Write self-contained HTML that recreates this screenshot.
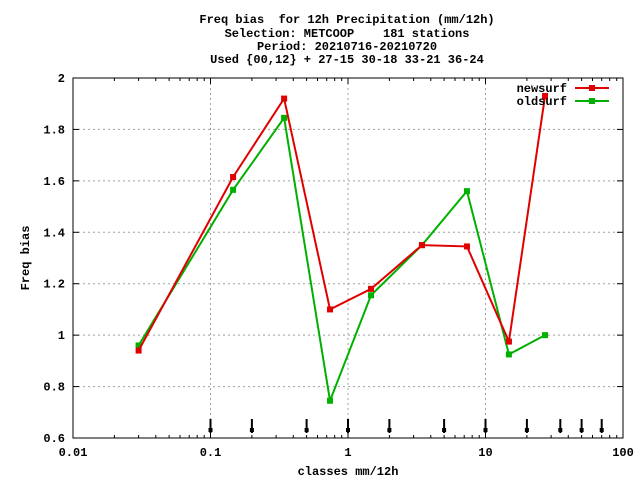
<!DOCTYPE html>
<html><head><meta charset="utf-8"><style>
body{margin:0;background:#fff}
svg text{font-family:"Liberation Mono",monospace;font-size:12px;font-weight:bold;fill:#000;white-space:pre}
</style></head><body>
<svg id="chart" width="640" height="480" xmlns="http://www.w3.org/2000/svg" xml:space="preserve">
<g>
<text x="347" y="23" text-anchor="middle">Freq bias  for 12h Precipitation (mm/12h)</text>
<text x="347" y="37" text-anchor="middle">Selection: METCOOP    181 stations</text>
<text x="347" y="50" text-anchor="middle">Period: 20210716-20210720</text>
<text x="347" y="63" text-anchor="middle">Used {00,12} + 27-15 30-18 33-21 36-24</text>
</g>
<g id="grid"></g>
<g id="axes"></g>
<g id="marks"></g>
<text transform="translate(29,258) rotate(-90)" text-anchor="middle">Freq bias</text>
<text x="348" y="475" text-anchor="middle">classes mm/12h</text>
<g>
<text x="567" y="92" text-anchor="end">newsurf</text>
<line x1="575" y1="88" x2="609" y2="88" stroke="#e00000" stroke-width="2"/>
<rect x="589" y="85" width="6" height="6" fill="#e00000"/>
<text x="567" y="105" text-anchor="end">oldsurf</text>
<line x1="575" y1="101" x2="609" y2="101" stroke="#00b000" stroke-width="2"/>
<rect x="589" y="98" width="6" height="6" fill="#00b000"/>
</g>
</svg>
<script>
const classes=[0.03,0.146,0.343,0.74,1.47,3.45,7.33,14.8,27.1];
const newsurf=[0.94,1.615,1.92,1.10,1.18,1.35,1.345,0.975,1.93];
const oldsurf=[0.96,1.565,1.845,0.745,1.155,1.35,1.56,0.925,1.0];
const arrowClasses=[0.1,0.2,0.5,1,2,5,10,20,35,50,70];
const yTicks=[0.6,0.8,1,1.2,1.4,1.6,1.8,2];
const yLabels=["0.6","0.8","1","1.2","1.4","1.6","1.8","2"];
const xTicks=[0.01,0.1,1,10,100];
const xLabels=["0.01","0.1","1","10","100"];
const L=73,R=623,T=78,B=438;
function X(v){return L+(Math.log10(v)+2)/4*(R-L);}
function Y(v){return B-(v-0.6)/1.4*(B-T);}
const NS="http://www.w3.org/2000/svg";
function mk(p,tag,a){const e=document.createElementNS(NS,tag);for(const k in a)e.setAttribute(k,a[k]);p.appendChild(e);return e;}
const grid=document.getElementById('grid'),axes=document.getElementById('axes'),marks=document.getElementById('marks');
yTicks.forEach((v,i)=>{
 if(i>0&&i<yTicks.length-1){const g=mk(grid,'line',{x1:L,x2:R,y1:Y(v),y2:Y(v),stroke:'#a0a0a0','stroke-dasharray':'2,3'});
 
 }
 mk(axes,'line',{x1:L,x2:L+6,y1:Y(v),y2:Y(v),stroke:'#000'});
 mk(axes,'line',{x1:R,x2:R-6,y1:Y(v),y2:Y(v),stroke:'#000'});
 const t=mk(axes,'text',{x:L-8,y:Y(v)+4,'text-anchor':'end'});t.textContent=yLabels[i];
 
 
});
xTicks.forEach((v,i)=>{
 if(i>0&&i<xTicks.length-1){const g=mk(grid,'line',{x1:X(v),x2:X(v),y1:T,y2:B,stroke:'#a0a0a0','stroke-dasharray':'2,3'});
 
 }
 const t=mk(axes,'text',{x:X(v),y:B+18,'text-anchor':'middle'});t.textContent=xLabels[i];
 
 
 if(i<xTicks.length-1){for(let m=1;m<10;m++){const xx=X(v*m);const h=m==1?6:3;
  mk(axes,'line',{x1:xx,x2:xx,y1:B,y2:B-h,stroke:'#000'});mk(axes,'line',{x1:xx,x2:xx,y1:T,y2:T+h,stroke:'#000'});}}
});
const fr=mk(axes,'rect',{x:L,y:T,width:R-L,height:B-T,fill:'none',stroke:'#000'});


arrowClasses.forEach(v=>{
 const a=mk(marks,'line',{x1:X(v),x2:X(v),y1:419,y2:433,stroke:'#000','stroke-width':2});
 
 
 mk(marks,'rect',{x:X(v)-2,y:428,width:4,height:4,fill:'#000'});
});
function series(vals,color,name){
 const pts=vals.map((v,i)=>X(classes[i])+','+Y(v)).join(' ');
 const pl=mk(marks,'polyline',{points:pts,fill:'none',stroke:color,'stroke-width':2});
 
 
 vals.forEach((v,i)=>{const r=mk(marks,'rect',{x:X(classes[i])-3,y:Y(v)-3,width:6,height:6,fill:color});
 
 });
}
series(oldsurf,'#00b000','oldsurf');
series(newsurf,'#e00000','newsurf');
</script>
</body></html>
